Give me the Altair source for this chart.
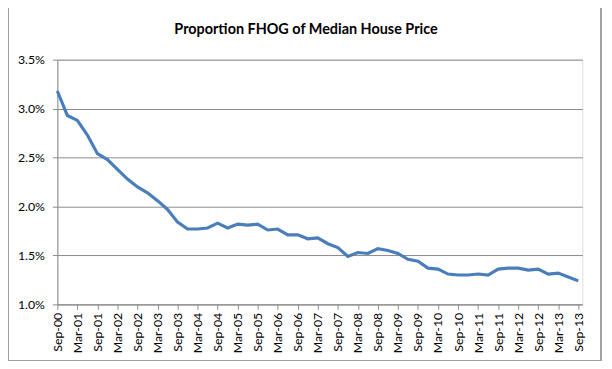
import altair as alt
import pandas as pd

quarters = [
    "Sep-00", "Dec-00", "Mar-01", "Jun-01", "Sep-01", "Dec-01", "Mar-02", "Jun-02",
    "Sep-02", "Dec-02", "Mar-03", "Jun-03", "Sep-03", "Dec-03", "Mar-04", "Jun-04",
    "Sep-04", "Dec-04", "Mar-05", "Jun-05", "Sep-05", "Dec-05", "Mar-06", "Jun-06",
    "Sep-06", "Dec-06", "Mar-07", "Jun-07", "Sep-07", "Dec-07", "Mar-08", "Jun-08",
    "Sep-08", "Dec-08", "Mar-09", "Jun-09", "Sep-09", "Dec-09", "Mar-10", "Jun-10",
    "Sep-10", "Dec-10", "Mar-11", "Jun-11", "Sep-11", "Dec-11", "Mar-12", "Jun-12",
    "Sep-12", "Dec-12", "Mar-13", "Jun-13", "Sep-13",
]

proportion_pct = [
    3.18, 2.93, 2.88, 2.73, 2.54, 2.48, 2.38, 2.28,
    2.20, 2.14, 2.06, 1.97, 1.84, 1.77, 1.77, 1.78,
    1.83, 1.78, 1.82, 1.81, 1.82, 1.76, 1.77, 1.71,
    1.71, 1.67, 1.68, 1.62, 1.58, 1.49, 1.53, 1.52,
    1.57, 1.55, 1.52, 1.46, 1.44, 1.37, 1.36, 1.31,
    1.30, 1.30, 1.31, 1.30, 1.36, 1.37, 1.37, 1.35,
    1.36, 1.31, 1.32, 1.28, 1.24,
]

y_ticks = [1.0, 1.5, 2.0, 2.5, 3.0, 3.5]
x_tick_idx = list(range(0, len(quarters), 2))

df = pd.DataFrame({
    "idx": list(range(len(quarters))),
    "quarter": quarters,
    "pct": proportion_pct,
})

label_array = "[" + ",".join("'" + q + "'" for q in quarters) + "]"

FONT = "Lato"
GRID = "#8a8a8a"

line = alt.Chart(df).mark_line(color="#4A7EBB", strokeWidth=3.2).encode(
    x=alt.X(
        "idx:Q",
        scale=alt.Scale(domain=[0, 52.4], nice=False, zero=False),
        axis=alt.Axis(
            values=x_tick_idx,
            labelExpr=label_array + "[datum.value]",
            labelAngle=270,
            labelAlign="right",
            labelBaseline="middle",
            labelFont=FONT,
            labelFontSize=12.5,
            labelColor="#000000",
            labelPadding=3,
            tickSize=5,
            tickColor=GRID,
            domainColor=GRID,
            grid=False,
            title=None,
        ),
    ),
    y=alt.Y(
        "pct:Q",
        scale=alt.Scale(domain=[1.0, 3.5], nice=False, zero=False),
        axis=alt.Axis(
            values=y_ticks,
            labelExpr="format(datum.value, '.1f') + '%'",
            labelFont=FONT,
            labelFontSize=12.5,
            labelColor="#000000",
            labelPadding=8,
            tickSize=5,
            tickColor=GRID,
            domainColor=GRID,
            grid=True,
            gridColor=GRID,
            gridWidth=1,
            title=None,
        ),
    ),
)

frame = alt.Chart(df).mark_rect(
    fill=None, stroke="#a0a0a0", strokeWidth=1
).encode(
    x=alt.value(-50),
    x2=alt.value(550.5),
    y=alt.value(-53),
    y2=alt.value(305.5),
)

chart = alt.layer(frame, line).properties(
    width=532,
    height=248,
    padding={"left": 50, "top": 50, "right": 22, "bottom": 55},
    autosize=alt.AutoSizeParams(type="none"),
    title=alt.TitleParams(
        "Proportion FHOG of Median House Price",
        font=FONT,
        fontSize=14.6,
        fontWeight="bold",
        color="#000000",
        anchor="middle",
        dx=-14,
        offset=-30,
    ),
).configure_view(stroke=None).configure(background="white")

chart.save("out.html", embed_options={"renderer": "svg", "actions": False})
